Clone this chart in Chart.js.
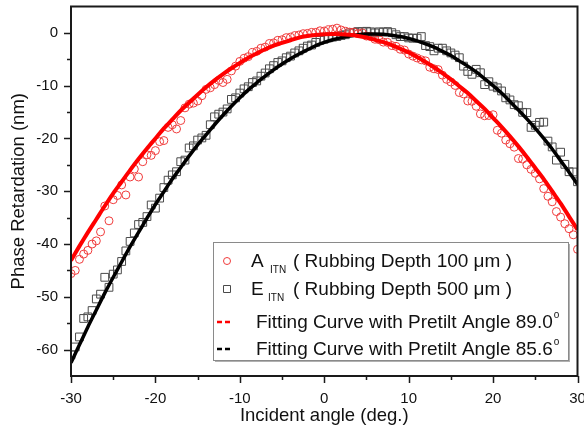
<!DOCTYPE html>
<html>
<head>
<meta charset="utf-8">
<script src="https://cdn.jsdelivr.net/npm/chart.js@4.4.1/dist/chart.umd.min.js"></script>
<style>
  html, body { margin: 0; padding: 0; background: #fff; }
</style>
</head>
<body>
<canvas id="myChart" width="584" height="437"></canvas>
<script>
// measured angles (deg.)
const angles = [
  -30, -29.5, -29, -28.5, -28, -27.5, -27, -26.5, -26, -25.5, -25, -24.5, -24, -23.5, -23, -22.5,
  -22, -21.5, -21, -20.5, -20, -19.5, -19, -18.5, -18, -17.5, -17, -16.5, -16, -15.5, -15, -14.5,
  -14, -13.5, -13, -12.5, -12, -11.5, -11, -10.5, -10, -9.5, -9, -8.5, -8, -7.5, -7, -6.5,
  -6, -5.5, -5, -4.5, -4, -3.5, -3, -2.5, -2, -1.5, -1, -0.5, 0, 0.5,
  1, 1.5, 2, 2.5, 3, 3.5, 4, 4.5, 5, 5.5, 6, 6.5, 7, 7.5, 8, 8.5,
  9, 9.5, 10, 10.5, 11, 11.5, 12, 12.5, 13, 13.5, 14, 14.5, 15, 15.5, 16, 16.5,
  17, 17.5, 18, 18.5, 19, 19.5, 20, 20.5, 21, 21.5, 22, 22.5, 23, 23.5, 24, 24.5,
  25, 25.5, 26, 26.5, 27, 27.5, 28, 28.5, 29, 29.5, 30
];

// A_ITN, rubbing depth 100 um
const aItn = [
  -45.6, -45.0, -42.9, -41.9, -41.2, -40.0, -39.4, -37.7, -32.8, -35.6, -31.6, -30.8, -28.8, -30.7, -27.3, -25.8,
  -27.3, -24.4, -23.1, -23.2, -22.3, -20.6, -20.4, -17.9, -17.4, -18.2, -16.6, -14.2, -13.5, -13.3, -12.9, -11.9,
  -10.7, -10.4, -9.8, -9.0, -9.4, -8.8, -7.2, -6.3, -5.4, -4.8, -4.5, -3.7, -3.5, -2.9, -2.7, -2.0,
  -1.9, -1.4, -1.3, -0.9, -0.8, -0.5, -0.4, -0.15, -0.1, 0.1, 0.1, 0.4, 0.35, 0.6,
  0.7, 0.9, 0.55, 0.3, 0.15, 0.15, -0.15, 0.0, -0.6, -0.7, -1.2, -1.3, -1.75, -1.8, -2.4, -2.55,
  -3.1, -3.25, -4.0, -4.4, -4.75, -5.1, -5.3, -6.5, -6.8, -6.95, -8.0, -8.8, -9.3, -9.95, -11.3, -11.55,
  -12.9, -12.95, -13.9, -15.35, -15.7, -15.65, -15.5, -18.45, -19.0, -20.3, -21.0, -21.65, -23.8, -23.9, -25.0, -25.85,
  -26.6, -27.65, -29.5, -30.95, -32.0, -33.85, -34.9, -36.15, -37.1, -38.25, -41.0
];

// E_ITN, rubbing depth 500 um
const eItn = [
  -61.0, -59.5, -57.6, -54.1, -53.8, -52.6, -50.4, -49.5, -46.3, -48.2, -45.7, -44.9, -43.3, -41.3, -39.5, -37.9,
  -36.3, -35.9, -34.8, -32.6, -33.2, -31.3, -29.3, -27.9, -26.9, -26.3, -24.4, -24.1, -21.8, -21.4, -20.3, -19.9,
  -19.4, -17.4, -15.9, -15.4, -15.0, -14.4, -12.6, -12.3, -11.4, -10.6, -10.2, -9.4, -9.1, -8.2, -7.6, -6.8,
  -6.2, -5.6, -5.3, -4.7, -4.4, -3.8, -3.4, -2.9, -2.5, -2.3, -1.8, -1.4, -1.2, -0.95,
  -0.8, -0.7, -0.5, -0.35, 0.0, 0.1, 0.25, 0.2, 0.3, 0.2, 0.0, 0.2, 0.15, 0.25, 0.05, -0.35,
  -0.7, -0.7, -0.95, -1.0, -1.0, -0.7, -2.4, -2.6, -3.4, -2.9, -2.9, -3.4, -3.8, -4.2, -4.7, -6.3,
  -7.3, -7.85, -6.9, -7.55, -9.8, -9.25, -10.1, -10.4, -11.0, -12.3, -12.7, -13.6, -13.8, -15.05, -15.1, -17.9,
  -17.5, -16.95, -16.9, -20.5, -21.6, -24.1, -22.6, -24.9, -26.3, -26.35, -28.2
];

// fitting curves, read every 1 deg.
const fitAngles = [
  -30, -29, -28, -27, -26, -25, -24, -23, -22, -21, -20, -19, -18, -17, -16, -15, -14, -13, -12, -11,
  -10, -9, -8, -7, -6, -5, -4, -3, -2, -1, 0, 1, 2, 3, 4, 5, 6, 7, 8, 9,
  10, 11, 12, 13, 14, 15, 16, 17, 18, 19, 20, 21, 22, 23, 24, 25, 26, 27, 28, 29, 30
];
const fitA = [
  -43.1, -40.4, -37.8, -35.3, -32.8, -30.4, -28.2, -26.0, -23.9, -21.9, -20.0, -18.1, -16.4, -14.7, -13.2, -11.7, -10.3, -9.0, -7.8, -6.7,
  -5.7, -4.7, -3.9, -3.1, -2.4, -1.9, -1.4, -0.9, -0.6, -0.4, -0.25, -0.2, -0.24, -0.36, -0.57, -0.88, -1.3, -1.75, -2.3, -3.0,
  -3.7, -4.55, -5.5, -6.5, -7.6, -8.8, -10.1, -11.4, -12.9, -14.4, -16.1, -17.8, -19.6, -21.5, -23.5, -25.6, -27.7, -30.0, -32.3, -34.8, -37.3
];
const fitE = [
  -62.5, -59.1, -55.7, -52.5, -49.3, -46.3, -43.4, -40.5, -37.8, -35.1, -32.5, -30.1, -27.7, -25.5, -23.3, -21.2, -19.3, -17.4, -15.6, -13.9,
  -12.3, -10.8, -9.45, -8.2, -7.0, -5.9, -4.9, -4.0, -3.2, -2.4, -1.8, -1.3, -0.9, -0.6, -0.36, -0.23, -0.2, -0.27, -0.44, -0.7,
  -1.06, -1.5, -2.07, -2.7, -3.5, -4.3, -5.3, -6.3, -7.4, -8.7, -10.0, -11.4, -13.0, -14.6, -16.3, -18.1, -20.0, -22.0, -24.2, -26.4, -28.7
];

const xTicks = [-30, -20, -10, 0, 10, 20, 30];
const yTicks = [-60, -50, -40, -30, -20, -10, 0];

const seriesNames = ["A", "E"];
const seriesSubs = ["ITN", "ITN"];
const seriesRest = ["( Rubbing Depth 100 \u03bcm )", "( Rubbing Depth 500 \u03bcm )"];
const fitLabels = ["Fitting Curve with Pretilt Angle 89.0", "Fitting Curve with Pretilt Angle 85.6"];

const FONT = "'Liberation Sans', Arial, sans-serif";

const toPts = (xs, ys) => xs.map((x, i) => ({ x: x, y: ys[i] }));

// frame, tick marks and the boxed legend
const framePlugin = {
  id: "frame",
  afterDraw(chart) {
    const c = chart.ctx;
    const a = chart.chartArea;
    const xs = chart.scales.x, ys = chart.scales.y;
    c.save();
    c.strokeStyle = "#1a1a1a";
    c.lineWidth = 2;
    c.strokeRect(a.left, a.top, a.right - a.left, a.bottom - a.top);

    c.lineWidth = 1.5;
    c.beginPath();
    xTicks.forEach((v, i) => {
      const px = Math.round(xs.getPixelForValue(v)) + 0.5;
      c.moveTo(px, a.bottom); c.lineTo(px, a.bottom + 7);
      if (i < xTicks.length - 1) {
        const mx = Math.round(xs.getPixelForValue((v + xTicks[i + 1]) / 2)) + 0.5;
        c.moveTo(mx, a.bottom); c.lineTo(mx, a.bottom + 4);
      }
    });
    yTicks.forEach((v, i) => {
      const py = Math.round(ys.getPixelForValue(v)) + 0.5;
      c.moveTo(a.left, py); c.lineTo(a.left - 7, py);
      if (i < yTicks.length - 1) {
        const my = Math.round(ys.getPixelForValue((v + yTicks[i + 1]) / 2)) + 0.5;
        c.moveTo(a.left, my); c.lineTo(a.left - 4, my);
      }
    });
    c.stroke();

    // legend box
    const bx = 213, by = 242, bw = 355, bh = 118;
    c.fillStyle = "#b0b0b0";
    c.fillRect(bx + 2, by + 2, bw, bh);
    c.fillStyle = "#fff";
    c.fillRect(bx, by, bw, bh);
    c.strokeStyle = "#8a8a8a";
    c.lineWidth = 1;
    c.strokeRect(bx + 0.5, by + 0.5, bw, bh);

    const ds = chart.data.datasets;
    const rows = [267, 295, 328, 355];
    const symX = 227;

    // scatter entries
    [2, 3].forEach((d, i) => {
      const yb = rows[i];
      const yc = yb - 6;
      c.strokeStyle = ds[d].borderColor;
      c.lineWidth = 1;
      c.beginPath();
      if (ds[d].pointStyle === "circle") {
        c.arc(symX, yc, 3.5, 0, Math.PI * 2);
      } else {
        c.rect(symX - 3.5, yc - 3.5, 7, 7);
      }
      c.stroke();
      c.fillStyle = "#111";
      c.textBaseline = "alphabetic";
      c.font = "19px " + FONT;
      c.fillText(seriesNames[i], 251, yb);
      c.font = "10px " + FONT;
      c.fillText(seriesSubs[i], i === 0 ? 270 : 268, yb + 6);
      c.font = "19px " + FONT;
      c.fillText(seriesRest[i], 293, yb);
    });

    // fit entries
    [0, 1].forEach((d, i) => {
      const yb = rows[i + 2];
      const yc = yb - 6;
      c.strokeStyle = ds[d].borderColor;
      c.lineWidth = 2.5;
      c.beginPath();
      c.moveTo(217, yc); c.lineTo(222, yc);
      c.moveTo(225, yc); c.lineTo(230, yc);
      c.stroke();
      c.fillStyle = "#111";
      c.font = "19px " + FONT;
      c.fillText(fitLabels[i], 256, yb);
      const w = c.measureText(fitLabels[i]).width;
      c.font = "10px " + FONT;
      c.fillText("o", 256 + w + 1, yb - 10);
    });
    c.restore();
  }
};

const ctx = document.getElementById("myChart").getContext("2d");
const myChart = new Chart(ctx, {
  type: "scatter",
  data: {
    datasets: [
      {
        label: fitLabels[0],
        data: toPts(fitAngles, fitA),
        showLine: true,
        borderColor: "#ff0000",
        borderWidth: 4,
        pointRadius: 0,
        tension: 0.3,
        order: 0,
      },
      {
        label: fitLabels[1],
        data: toPts(fitAngles, fitE),
        showLine: true,
        borderColor: "#000000",
        borderWidth: 3.5,
        pointRadius: 0,
        tension: 0.3,
        order: 0,
      },
      {
        label: "A ITN",
        data: toPts(angles, aItn),
        pointStyle: "circle",
        pointRadius: 4,
        borderWidth: 1,
        borderColor: "#f03c3c",
        backgroundColor: "rgba(0,0,0,0)",
        order: 1,
      },
      {
        label: "E ITN",
        data: toPts(angles, eItn),
        pointStyle: "rect",
        pointRadius: 5.5,
        borderWidth: 1,
        borderColor: "#4a4a4a",
        backgroundColor: "rgba(0,0,0,0)",
        order: 1,
      },
    ],
  },
  options: {
    responsive: false,
    animation: false,
    events: [],
    layout: { padding: { left: 0, right: 6, top: 3, bottom: 0 } },
    plugins: {
      legend: { display: false },
      tooltip: { enabled: false },
    },
    scales: {
      x: {
        type: "linear",
        min: -30,
        max: 30,
        afterBuildTicks: (s) => { s.ticks = xTicks.map(v => ({ value: v })); },
        afterFit: (s) => { s.height = 61; s.paddingLeft = 0; s.paddingRight = 0; },
        grid: { display: true, drawOnChartArea: false, drawTicks: false },
        border: { display: false },
        ticks: { color: "#111", padding: 14, maxRotation: 0, font: { size: 15, family: FONT } },
        title: {
          display: true,
          text: "Incident angle (deg.)",
          color: "#111",
          font: { size: 18.5, family: FONT },
          padding: { top: 0, bottom: 10 },
        },
      },
      y: {
        type: "linear",
        min: -65,
        max: 5,
        afterBuildTicks: (s) => { s.ticks = yTicks.map(v => ({ value: v })); },
        afterFit: (s) => { s.width = 71; s.paddingTop = 0; s.paddingBottom = 0; },
        grid: { display: true, drawOnChartArea: false, drawTicks: false },
        border: { display: false },
        ticks: { color: "#111", padding: 13, font: { size: 15, family: FONT } },
        title: {
          display: true,
          text: "Phase Retardation (nm)",
          color: "#111",
          font: { size: 18.5, family: FONT },
          padding: { top: 8, bottom: 0 },
        },
      },
    },
  },
  plugins: [framePlugin],
});
</script>
</body>
</html>
